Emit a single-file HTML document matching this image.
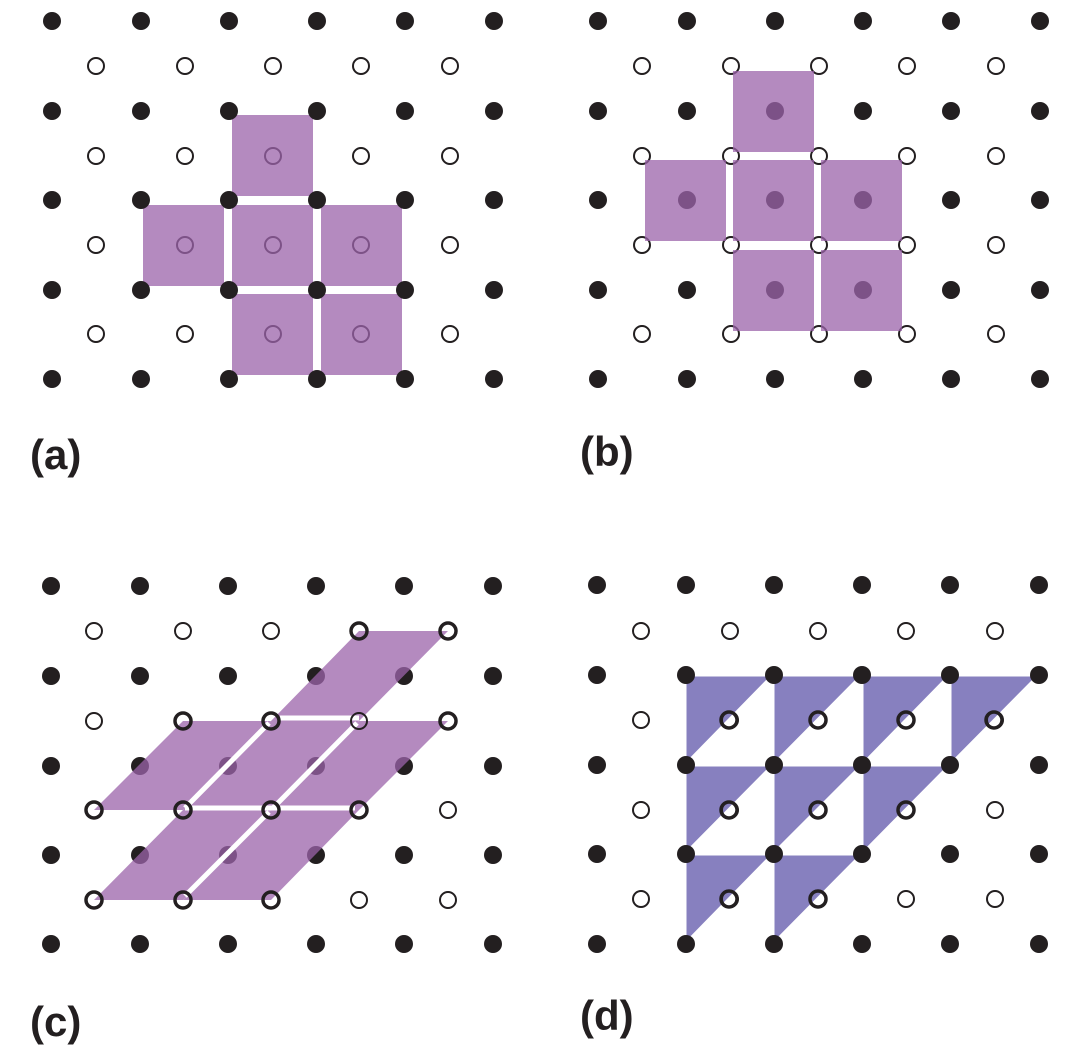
<!DOCTYPE html>
<html><head><style>body{margin:0;background:#fff}svg{display:block}</style></head><body>
<svg width="1089" height="1058" xmlns="http://www.w3.org/2000/svg">
<defs>
<circle id="f" cx="0" cy="0" r="9" fill="#231f20"/>
<circle id="o" cx="0" cy="0" r="8" fill="none" stroke="#231f20" stroke-width="2"/>
<g id="rowF6a"><use href="#f" x="52"/><use href="#f" x="141"/><use href="#f" x="229"/><use href="#f" x="317"/><use href="#f" x="405"/><use href="#f" x="494"/></g>
<g id="rowO5a"><use href="#o" x="96"/><use href="#o" x="185"/><use href="#o" x="273"/><use href="#o" x="361"/><use href="#o" x="450"/></g>
</defs>
<g>
<use href="#rowO5a" y="66"/><use href="#rowO5a" y="156"/><use href="#rowO5a" y="245"/><use href="#rowO5a" y="334"/>
<g transform="translate(546,0)">
<use href="#rowF6a" y="21"/><use href="#rowF6a" y="111"/><use href="#rowF6a" y="200"/><use href="#rowF6a" y="290"/><use href="#rowF6a" y="379"/>
<use href="#rowO5a" y="66"/><use href="#rowO5a" y="156"/><use href="#rowO5a" y="245"/><use href="#rowO5a" y="334"/>
</g>
</g>
<g fill="#9b63aa" opacity="0.75">
<rect x="232" y="115" width="81" height="81"/>
<rect x="143" y="205" width="81" height="81"/><rect x="232" y="205" width="81" height="81"/><rect x="321" y="205" width="81" height="81"/>
<rect x="232" y="294" width="81" height="81"/><rect x="321" y="294" width="81" height="81"/>
<rect x="733" y="71" width="81" height="81"/>
<rect x="645" y="160" width="81" height="81"/><rect x="733" y="160" width="81" height="81"/><rect x="821" y="160" width="81" height="81"/>
<rect x="733" y="250" width="81" height="81"/><rect x="821" y="250" width="81" height="81"/>
</g>
<g>
<use href="#rowF6a" y="21"/><use href="#rowF6a" y="111"/><use href="#rowF6a" y="200"/><use href="#rowF6a" y="290"/><use href="#rowF6a" y="379"/>
</g>
<g transform="translate(-1,565)">
<use href="#rowF6a" y="21"/><use href="#rowF6a" y="111"/><use href="#rowF6a" y="201"/><use href="#rowF6a" y="290"/><use href="#rowF6a" y="379"/>
</g>
<g fill="#9b63aa" opacity="0.75">
<polygon points="359,631 448,631 359,721 271,721"/>
<polygon points="183,721 271,721 183,810 94,810"/>
<polygon points="271,721 359,721 271,810 183,810"/>
<polygon points="359,721 448,721 359,810 271,810"/>
<polygon points="183,810 271,810 183,900 94,900"/>
<polygon points="271,810 359,810 271,900 183,900"/>
</g>
<g fill="none" stroke="#fff" stroke-width="5">
<line x1="280" y1="718" x2="359" y2="718"/>
<line x1="185" y1="808" x2="355" y2="808"/>
<line x1="269" y1="723" x2="185" y2="808"/><line x1="357" y1="723" x2="273" y2="808"/>
<line x1="269" y1="812" x2="185" y2="896"/>
</g>
<g transform="translate(-2,565)">
<use href="#rowO5a" y="66"/><use href="#rowO5a" y="156"/><use href="#rowO5a" y="245"/><use href="#rowO5a" y="335"/>
</g>
<g fill="none" stroke="#231f20" stroke-width="3.5">
<circle cx="359" cy="631" r="8"/><circle cx="448" cy="631" r="8"/>
<circle cx="183" cy="721" r="8"/><circle cx="271" cy="721" r="8"/><circle cx="448" cy="721" r="8"/>
<circle cx="94" cy="810" r="8"/><circle cx="183" cy="810" r="8"/><circle cx="271" cy="810" r="8"/><circle cx="359" cy="810" r="8"/>
<circle cx="94" cy="900" r="8"/><circle cx="183" cy="900" r="8"/><circle cx="271" cy="900" r="8"/>
</g>
<g fill="#8780bf" stroke="#fff" stroke-width="3">
<polygon points="685,675 773,675 685,765"/><polygon points="773,675 862,675 773,765"/><polygon points="862,675 950,675 862,765"/><polygon points="950,675 1039,675 950,765"/>
<polygon points="685,765 773,765 685,854"/><polygon points="773,765 862,765 773,854"/><polygon points="862,765 950,765 862,854"/>
<polygon points="685,854 773,854 685,944"/><polygon points="773,854 862,854 773,944"/>
</g>
<g transform="translate(545,0)">
<use href="#rowF6a" y="585"/><use href="#rowF6a" y="675"/><use href="#rowF6a" y="765"/><use href="#rowF6a" y="854"/><use href="#rowF6a" y="944"/>
<use href="#rowO5a" y="631"/><use href="#rowO5a" y="720"/><use href="#rowO5a" y="810"/><use href="#rowO5a" y="899"/>
</g>
<g fill="none" stroke="#231f20" stroke-width="3.5">
<circle cx="729" cy="720" r="8"/><circle cx="818" cy="720" r="8"/><circle cx="906" cy="720" r="8"/><circle cx="994" cy="720" r="8"/>
<circle cx="729" cy="810" r="8"/><circle cx="818" cy="810" r="8"/><circle cx="906" cy="810" r="8"/>
<circle cx="729" cy="899" r="8"/><circle cx="818" cy="899" r="8"/>
</g>
<g font-family="Liberation Sans, sans-serif" font-weight="bold" font-size="42" fill="#231f20">
<text x="30" y="469">(a)</text><text x="580" y="466">(b)</text>
<text x="30" y="1036">(c)</text><text x="580" y="1030">(d)</text>
</g>
</svg>
</body></html>
